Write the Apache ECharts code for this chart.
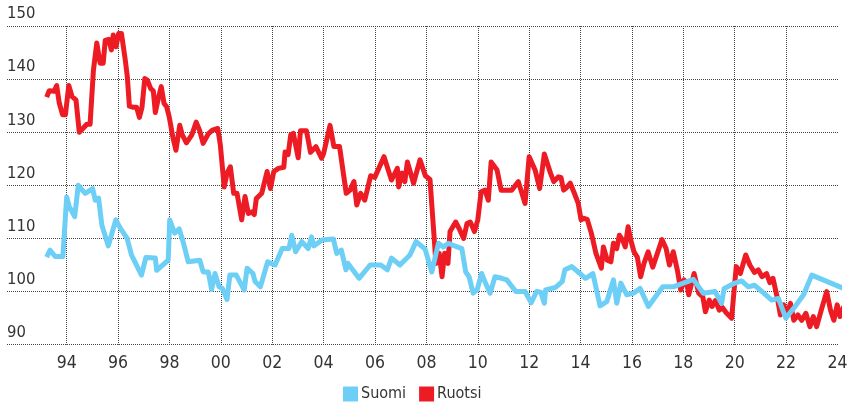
<!DOCTYPE html>
<html>
<head>
<meta charset="utf-8">
<script src="https://cdn.jsdelivr.net/npm/echarts@6/dist/echarts.min.js"></script>
<style>
html,body{margin:0;padding:0;background:#fff;}
#chart{width:852px;height:403px;}
</style>
</head>
<body>
<div id="chart"></div>
<script>
const seriesNames = ['Suomi', 'Ruotsi'];
const tickYears = [1994, 1996, 1998, 2000, 2002, 2004, 2006, 2008, 2010, 2012, 2014, 2016, 2018, 2020, 2022];
const labelYears = [1994, 1996, 1998, 2000, 2002, 2004, 2006, 2008, 2010, 2012, 2014, 2016, 2018, 2020, 2022, 2024];

const ruotsiYears = [
  1993.22, 1993.32, 1993.51, 1993.61, 1993.71, 1993.84, 1993.95, 1994.08, 1994.21, 1994.36,
  1994.49, 1994.65, 1994.78, 1994.91, 1995.04, 1995.17, 1995.30, 1995.42, 1995.50, 1995.63,
  1995.74, 1995.81, 1995.92, 1996.02, 1996.13, 1996.28, 1996.36, 1996.44, 1996.59, 1996.72,
  1996.83, 1996.93, 1997.04, 1997.14, 1997.27, 1997.37, 1997.45, 1997.58, 1997.68, 1997.79,
  1997.89, 1997.99, 1998.13, 1998.25, 1998.40, 1998.50, 1998.66, 1998.87, 1999.04, 1999.17,
  1999.31, 1999.51, 1999.67, 1999.88, 1999.98, 2000.13, 2000.24, 2000.37, 2000.50, 2000.63,
  2000.81, 2000.94, 2001.07, 2001.20, 2001.30, 2001.38, 2001.59, 2001.80, 2001.93, 2002.06,
  2002.24, 2002.45, 2002.50, 2002.62, 2002.72, 2002.82, 2003.01, 2003.10, 2003.33, 2003.49,
  2003.70, 2003.92, 2004.00, 2004.25, 2004.40, 2004.62, 2004.88, 2005.03, 2005.18, 2005.29,
  2005.44, 2005.60, 2005.83, 2005.99, 2006.35, 2006.64, 2006.87, 2006.92, 2007.05, 2007.16,
  2007.26, 2007.50, 2007.75, 2007.96, 2008.14, 2008.30, 2008.37, 2008.50, 2008.61, 2008.71,
  2008.84, 2008.92, 2009.14, 2009.30, 2009.45, 2009.58, 2009.71, 2009.87, 2010.00, 2010.13,
  2010.28, 2010.41, 2010.52, 2010.75, 2010.91, 2011.14, 2011.32, 2011.58, 2011.84, 2012.00,
  2012.23, 2012.41, 2012.59, 2012.83, 2012.96, 2013.14, 2013.24, 2013.34, 2013.44, 2013.60,
  2013.76, 2013.91, 2014.02, 2014.11, 2014.26, 2014.42, 2014.60, 2014.81, 2014.89, 2015.04,
  2015.18, 2015.28, 2015.41, 2015.51, 2015.64, 2015.74, 2015.85, 2015.95, 2016.08, 2016.21,
  2016.34, 2016.47, 2016.63, 2016.81, 2016.99, 2017.17, 2017.33, 2017.46, 2017.61, 2017.77,
  2017.90, 2018.03, 2018.16, 2018.21, 2018.42, 2018.60, 2018.76, 2018.86, 2019.01, 2019.12,
  2019.25, 2019.40, 2019.52, 2019.67, 2019.88, 2020.06, 2020.22, 2020.43, 2020.59, 2020.77,
  2020.92, 2021.06, 2021.24, 2021.37, 2021.49, 2021.65, 2021.78, 2021.91, 2022.01, 2022.17,
  2022.30, 2022.46, 2022.61, 2022.77, 2022.93, 2023.06, 2023.19, 2023.37, 2023.58, 2023.73,
  2023.86, 2023.99, 2024.10, 2024.23, 2024.33, 2024.43
];
const ruotsiValues = [
  136.6, 137.8, 137.7, 138.8, 135.5, 133.3, 133.3, 138.8, 136.7, 136.1,
  130.0, 130.8, 131.5, 131.5, 141.7, 146.8, 143.0, 143.0, 147.3, 147.5,
  145.5, 148.3, 146.1, 148.6, 148.6, 143.6, 140.4, 134.9, 134.7, 134.7,
  132.8, 134.7, 140.1, 139.8, 138.2, 137.8, 133.7, 136.7, 138.6, 135.4,
  134.8, 132.9, 129.1, 126.6, 131.3, 129.5, 128.0, 129.5, 131.9, 130.4,
  127.9, 129.7, 130.4, 130.7, 127.6, 119.7, 122.3, 123.5, 118.5, 118.5,
  113.5, 117.9, 114.7, 115.0, 114.5, 117.5, 118.5, 122.6, 119.4, 122.6,
  123.2, 123.4, 126.3, 125.8, 129.5, 129.8, 125.2, 130.3, 130.3, 126.2,
  127.3, 125.1, 126.0, 131.3, 127.3, 127.3, 118.5, 119.1, 120.7, 116.3,
  118.5, 117.2, 121.8, 121.5, 125.4, 121.0, 123.2, 119.7, 122.3, 120.7,
  124.4, 120.4, 124.8, 121.8, 121.1, 110.3, 105.3, 107.2, 102.8, 107.2,
  105.3, 111.3, 113.1, 111.6, 110.0, 112.8, 113.1, 111.3, 113.5, 118.8,
  119.1, 117.2, 124.4, 122.9, 119.1, 119.1, 119.1, 120.7, 116.6, 125.4,
  122.9, 119.4, 125.9, 122.3, 120.7, 121.6, 121.5, 119.1, 119.5, 120.4,
  118.5, 116.6, 113.5, 113.8, 113.6, 111.0, 107.2, 104.4, 108.4, 105.9,
  105.6, 109.1, 108.1, 110.6, 109.7, 108.4, 112.2, 109.8, 107.5, 106.5,
  102.8, 105.3, 107.5, 104.6, 107.2, 109.8, 108.1, 105.0, 107.5, 104.0,
  100.3, 102.2, 100.9, 99.4, 103.4, 99.7, 99.0, 96.2, 98.4, 97.2,
  98.3, 96.5, 97.0, 96.0, 95.0, 104.7, 103.4, 106.9, 105.0, 103.6,
  104.1, 102.8, 103.4, 101.7, 102.5, 99.0, 95.6, 97.5, 95.3, 97.8,
  94.6, 95.6, 94.6, 95.9, 93.4, 95.3, 93.4, 96.5, 100.0, 96.5,
  94.6, 97.5, 95.3, 97.0, 95.9, 96.5
];

const suomiYears = [
  1993.22, 1993.35, 1993.55, 1993.85, 1994.00, 1994.10, 1994.31, 1994.45, 1994.72, 1995.01,
  1995.11, 1995.24, 1995.37, 1995.62, 1995.91, 1996.13, 1996.35, 1996.52, 1996.91, 1997.08,
  1997.45, 1997.50, 1997.95, 1998.01, 1998.20, 1998.38, 1998.53, 1998.73, 1999.18, 1999.31,
  1999.51, 1999.64, 1999.77, 1999.93, 2000.06, 2000.24, 2000.35, 2000.60, 2000.91, 2001.02,
  2001.25, 2001.33, 2001.54, 2001.82, 2002.11, 2002.39, 2002.65, 2002.76, 2002.91, 2003.15,
  2003.40, 2003.53, 2003.62, 2003.94, 2004.38, 2004.51, 2004.69, 2004.87, 2004.95, 2005.38,
  2005.81, 2006.22, 2006.48, 2006.64, 2006.97, 2007.36, 2007.60, 2007.95, 2008.21, 2008.47,
  2008.66, 2008.86, 2008.99, 2009.38, 2009.53, 2009.66, 2009.82, 2009.98, 2010.15, 2010.31,
  2010.48, 2010.67, 2010.93, 2011.13, 2011.48, 2011.84, 2012.08, 2012.29, 2012.45, 2012.59,
  2012.64, 2013.03, 2013.29, 2013.39, 2013.66, 2013.98, 2014.19, 2014.48, 2014.76, 2015.02,
  2015.28, 2015.41, 2015.57, 2015.80, 2016.06, 2016.32, 2016.64, 2017.20, 2017.61, 2018.00,
  2018.39, 2018.78, 2019.23, 2019.49, 2019.59, 2020.01, 2020.27, 2020.53, 2020.77, 2020.92,
  2021.44, 2021.70, 2021.99, 2022.35, 2022.68, 2023.00, 2024.43
];
const suomiValues = [
  106.5, 107.8, 106.6, 106.6, 117.8, 116.0, 114.1, 120.0, 118.5, 119.4,
  117.2, 117.6, 112.5, 108.6, 113.5, 111.6, 110.0, 106.9, 103.1, 106.4,
  106.3, 104.0, 105.9, 113.5, 111.0, 111.8, 109.4, 105.6, 105.9, 103.7,
  103.7, 100.4, 103.4, 100.9, 100.6, 98.5, 103.1, 103.1, 100.3, 104.4,
  103.4, 101.9, 100.9, 105.6, 105.0, 108.1, 108.1, 110.6, 107.5, 109.4,
  108.1, 110.3, 108.6, 109.7, 109.9, 107.2, 107.8, 104.1, 105.3, 102.5,
  105.0, 105.0, 104.1, 106.3, 105.0, 106.9, 109.4, 108.0, 103.7, 109.1,
  108.4, 109.1, 108.8, 108.1, 103.7, 102.8, 99.7, 100.4, 103.4, 101.5,
  99.7, 102.8, 102.5, 102.2, 100.0, 100.0, 97.9, 100.0, 99.9, 97.8,
  100.3, 100.8, 101.9, 104.1, 104.7, 103.4, 102.5, 103.4, 97.3, 98.1,
  102.2, 97.8, 101.6, 99.4, 99.7, 100.6, 97.2, 100.9, 100.9, 101.6,
  102.3, 99.7, 100.0, 97.8, 100.6, 101.6, 102.0, 100.9, 101.2, 100.6,
  98.4, 98.7, 95.0, 97.2, 99.4, 103.1, 100.2
];

const FONT = "'DejaVu Sans Condensed', 'DejaVu Sans', sans-serif";
const zip = (xs, ys) => xs.map((x, i) => [x, ys[i]]);

const chart = echarts.init(document.getElementById('chart'), null, {renderer: 'canvas'});
chart.setOption({
  animation: false,
  backgroundColor: '#ffffff',
  color: ['#6dcff6', '#ed1c24'],
  grid: {left: 7, right: 13, top: 26, bottom: 58.3, containLabel: false},
  legend: {
    data: seriesNames,
    icon: 'rect',
    itemWidth: 15,
    itemHeight: 15,
    itemGap: 13,
    left: 343,
    top: 386,
    padding: 0,
    textStyle: {fontFamily: FONT, fontSize: 16, color: '#333', padding: [0, 0, 0, -2]}
  },
  xAxis: {
    type: 'value',
    min: 1991.676,
    max: 2024.06,
    axisLine: {show: false},
    axisTick: {show: false, customValues: tickYears},
    axisLabel: {
      customValues: labelYears,
      formatter: v => String(Math.round(v) % 100).padStart(2, '0'),
      margin: 10,
      fontFamily: FONT,
      fontSize: 17.5,
      lineHeight: 18,
      color: '#333'
    },
    splitLine: {show: true, lineStyle: {type: [1, 1], color: '#444', width: 1}}
  },
  yAxis: {
    type: 'value',
    min: 90,
    max: 150,
    interval: 10,
    axisLine: {show: false},
    axisTick: {show: false},
    axisLabel: {
      inside: true,
      margin: 0,
      align: 'left',
      verticalAlign: 'bottom',
      lineHeight: 24,
      fontFamily: FONT,
      fontSize: 16.5,
      color: '#333'
    },
    splitLine: {show: true, lineStyle: {type: [1, 1], color: '#444', width: 1}}
  },
  series: [
    {
      name: 'Ruotsi',
      type: 'line',
      data: zip(ruotsiYears, ruotsiValues),
      showSymbol: false,
      clip: false,
      lineStyle: {width: 5, color: '#ed1c24', join: 'round'},
      itemStyle: {color: '#ed1c24'},
      z: 2
    },
    {
      name: 'Suomi',
      type: 'line',
      data: zip(suomiYears, suomiValues),
      showSymbol: false,
      clip: false,
      lineStyle: {width: 5, color: '#6dcff6', join: 'round'},
      itemStyle: {color: '#6dcff6'},
      z: 3
    }
  ]
});
</script>
</body>
</html>
